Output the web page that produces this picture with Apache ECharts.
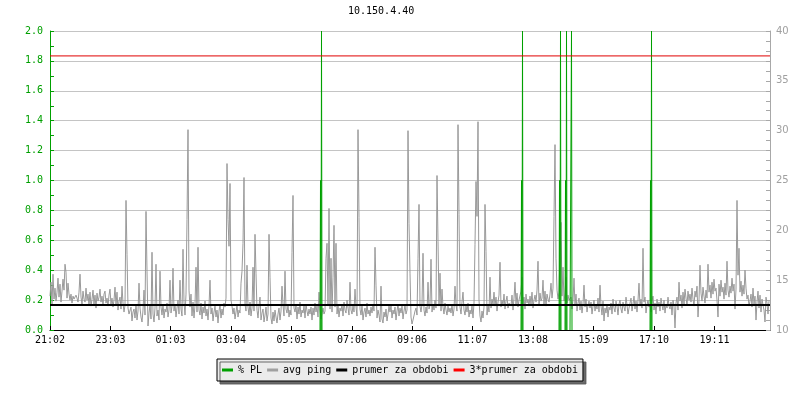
<!DOCTYPE html>
<html><head><meta charset="utf-8">
<script src="https://cdn.jsdelivr.net/npm/echarts@6/dist/echarts.min.js"></script>
<style>html,body{margin:0;padding:0;background:#fff}#c{width:800px;height:400px}</style>
</head><body><div id="c"></div>
<script>
// time axis: minutes after 21:02
const tickMinutes = [0,121,241,362,483,604,724,845,966,1087,1208,1329];
const tickLabels = ['21:02','23:03','01:03','03:04','05:05','07:06','09:06','11:07','13:08','15:09','17:10','19:11'];
// avg ping (ms), one value every 2 minutes
const pingMs = [
13.4,14.8,12.6,15.6,13.1,14.2,12.9,13.8,15.2,13.3,14.6,12.8,13.9,15.1,14.0,16.6,15.8,13.2,14.7,13.6,
13.0,13.6,12.7,13.4,13.1,12.9,13.5,13.2,12.8,13.8,15.6,13.3,12.6,13.9,13.1,12.8,14.2,13.0,13.6,12.5,
13.8,12.4,13.1,14.0,12.6,13.5,12.2,13.7,12.9,13.3,14.1,12.8,13.4,12.5,13.6,13.9,12.7,13.2,12.4,13.5,
14.1,12.6,13.2,12.3,13.0,14.3,12.5,13.8,12.0,12.9,13.3,12.1,14.4,12.7,11.8,12.5,23.0,17.6,12.2,11.6,
11.4,12.3,10.9,11.8,12.1,11.2,12.6,11.0,11.9,14.7,12.2,11.3,10.8,12.0,14.0,11.5,21.9,15.9,10.4,11.7,
12.5,11.1,17.8,11.6,10.8,12.2,16.6,11.4,12.0,11.0,15.9,12.3,11.5,12.6,11.2,12.1,11.8,12.7,11.3,12.0,
15.0,11.7,12.4,16.2,11.9,12.6,11.3,12.2,13.0,11.6,15.0,12.1,11.4,18.1,12.8,11.5,13.6,21.1,30.1,14.0,
12.3,13.6,11.4,12.8,11.2,12.5,16.3,11.8,18.3,12.0,11.5,12.7,11.1,12.3,11.7,12.9,11.4,12.1,11.0,12.4,
15.0,11.6,12.2,10.9,11.8,12.4,11.3,12.0,10.7,11.9,12.5,11.2,12.1,11.5,12.7,12.3,13.2,26.7,21.1,18.4,
24.7,13.0,12.4,11.6,12.2,11.1,11.8,12.5,11.3,12.0,11.7,14.7,15.9,18.7,25.3,12.6,11.9,16.5,12.3,11.5,
12.8,11.4,12.2,16.3,11.9,19.6,15.7,12.0,11.2,12.4,13.3,11.0,11.7,12.1,10.8,11.5,12.3,10.9,11.6,19.6,
15.3,11.2,10.6,11.8,10.9,12.0,11.3,10.7,11.6,12.2,11.0,11.9,14.4,12.5,11.4,15.9,12.1,11.7,12.6,11.3,
12.0,11.5,17.8,23.5,12.2,11.8,12.5,11.1,12.3,11.6,12.8,11.3,12.0,11.7,12.4,11.2,12.6,11.9,11.4,12.1,
11.6,12.3,11.0,12.2,11.5,12.7,11.8,12.4,11.3,13.8,12.0,11.1,10.9,12.2,11.6,11.9,17.2,18.7,12.4,22.2,
12.1,17.2,11.8,15.3,20.5,12.3,18.7,11.6,12.5,11.3,12.2,11.9,12.6,11.4,12.8,12.0,11.7,13.0,12.2,11.5,
14.8,12.0,11.6,12.5,11.8,14.1,12.3,11.4,30.1,21.3,12.1,11.5,12.4,11.0,11.8,12.2,11.3,12.7,11.6,12.0,
11.4,12.3,11.7,12.6,11.9,18.3,14.5,11.2,12.0,11.5,10.8,14.4,11.1,10.7,11.8,11.3,12.1,10.9,11.6,12.4,
11.8,12.5,11.2,12.0,11.6,12.3,11.0,11.9,12.6,11.4,12.2,11.7,12.4,11.1,11.9,12.5,11.6,12.0,30.0,20.7,
15.7,11.3,10.6,11.0,10.8,11.9,12.2,11.5,17.2,22.6,12.4,11.8,12.6,17.7,12.0,11.4,12.3,11.7,14.8,12.1,
12.5,17.1,11.8,12.6,12.0,13.0,12.2,25.5,18.9,12.4,15.7,11.9,14.1,12.3,11.6,12.7,12.0,11.5,12.4,11.8,
12.2,11.7,12.6,11.4,12.1,14.4,12.5,11.9,30.6,21.6,12.3,11.6,12.8,13.8,12.0,11.5,12.4,11.8,12.7,11.3,
12.0,11.6,12.4,11.2,12.7,18.6,24.9,21.4,30.9,13.0,11.4,10.8,11.9,11.2,12.3,22.6,17.9,11.5,12.6,11.8,
15.3,12.2,13.1,12.6,13.8,12.4,13.3,11.9,12.8,13.5,16.8,12.3,13.0,12.5,13.6,12.1,12.9,13.4,12.2,12.7,
12.9,12.4,13.5,12.0,13.2,14.8,12.6,13.7,12.3,13.0,12.8,13.9,15.3,12.5,13.3,12.1,13.6,12.7,13.1,12.4,
13.4,12.6,13.8,12.2,13.0,13.5,12.8,14.0,16.9,12.5,13.7,12.9,13.2,15.0,12.6,13.9,12.4,13.6,13.1,12.8,
13.6,14.7,13.2,14.2,21.4,28.6,17.2,14.0,13.1,13.8,17.8,20.8,13.4,16.3,12.9,13.6,15.3,12.7,13.5,13.0,
12.8,13.3,12.1,13.0,15.2,12.5,13.6,11.9,12.7,13.2,12.0,12.9,11.7,12.6,14.5,12.3,13.1,11.8,12.5,12.9,
12.2,12.8,11.6,12.4,13.0,11.9,12.6,12.1,13.2,11.8,14.5,12.4,11.5,12.9,10.9,12.2,11.7,12.6,11.3,12.3,
12.0,12.7,11.6,13.1,12.2,11.8,12.9,12.4,11.5,12.6,13.0,12.1,11.7,12.8,12.3,11.9,13.3,12.5,11.6,12.2,
12.7,13.2,11.9,12.6,13.4,12.1,12.9,11.8,13.0,14.7,12.4,13.1,12.2,18.2,12.8,13.3,11.7,12.5,13.0,12.3,
12.6,11.8,12.9,13.4,12.0,12.7,11.6,13.1,12.3,12.8,11.9,13.2,12.5,12.0,13.0,11.7,12.6,12.2,13.3,12.4,
12.1,12.8,11.5,13.0,12.4,10.2,12.7,13.3,12.0,14.8,12.9,13.5,12.2,13.8,12.6,14.1,13.2,12.5,13.9,13.0,
13.6,12.8,14.2,13.1,12.4,13.9,13.3,14.4,11.3,13.0,16.5,13.7,12.9,14.3,13.4,12.7,14.0,13.2,16.6,13.8,
14.5,13.2,14.8,13.6,15.1,13.9,14.2,13.0,11.3,14.6,13.4,15.0,13.8,14.3,13.1,14.7,13.5,16.9,14.0,13.3,
14.4,13.7,15.2,13.9,14.6,12.1,14.1,23.0,15.5,18.2,13.8,14.9,13.4,14.5,13.6,16.0,14.2,13.1,13.5,12.4,
12.9,13.6,12.3,14.2,12.6,13.4,11.0,12.8,13.9,12.2,13.5,11.8,13.1,12.5,12.0,10.8,13.3,12.7,11.6,12.9
];
// packet loss events (minute), peak % and neighbouring value
const plTimes = [540, 942, 1018, 1030, 1040, 1200];
const plPeak = [2, 2, 2, 2, 2, 2];
const plShoulder = [1, 1, 1, 1, 0, 1];
const meanPing = [12.5, 12.5];
const threeMeanPing = [37.5, 37.5];
const spanMinutes = [0, 1440];

const pingData = pingMs.map((v, i) => [i * 2, v]);
const plData = [];
plTimes.forEach((t, k) => {
  plData.push([t, 0], [t + 1, plShoulder[k]], [t + 2, 0], [t + 3, plPeak[k]], [t + 4, 0], [t + 5, null]);
});
const meanData = spanMinutes.map((m, i) => [m, meanPing[i]]);
const threeData = spanMinutes.map((m, i) => [m, threeMeanPing[i]]);

const mono = 'DejaVu Sans Mono';
const chart = echarts.init(document.getElementById('c'), null, {renderer: 'canvas'});
chart.setOption({
  animation: false,
  backgroundColor: '#ffffff',
  title: {text: '10.150.4.40', left: 348, top: 6, padding: 0, textStyle: {fontFamily: mono, fontSize: 10, fontWeight: 'normal', color: '#000'}},
  grid: {left: 50, right: 30, top: 31, bottom: 70},
  legend: {
    left: 217, top: 359, orient: 'horizontal',
    backgroundColor: '#ebebeb', borderColor: '#000', borderWidth: 1,
    shadowColor: 'rgba(90,90,90,0.9)', shadowOffsetX: 3, shadowOffsetY: 3, shadowBlur: 0.01,
    padding: [6, 5, 6, 5], itemGap: 5, itemWidth: 11, itemHeight: 3,
    textStyle: {fontFamily: mono, fontSize: 10, color: '#000'},
    data: [
      {name: '% PL', icon: 'rect'},
      {name: 'avg ping', icon: 'rect'},
      {name: 'prumer za obdobi', icon: 'rect'},
      {name: '3*prumer za obdobi', icon: 'rect'}
    ]
  },
  xAxis: {
    type: 'value', min: 0, max: 1440,
    axisLine: {lineStyle: {color: '#000', width: 1}},
    axisTick: {inside: true, length: 4, lineStyle: {color: '#000'}, customValues: tickMinutes},
    axisLabel: {customValues: tickMinutes, margin: 5, fontFamily: mono, fontSize: 10, color: '#000',
      formatter: v => { const k = tickMinutes.indexOf(v); return k >= 0 ? tickLabels[k] : ''; }},
    splitLine: {show: false}
  },
  yAxis: [
    {
      type: 'value', min: 0, max: 2, interval: 0.2, position: 'left',
      axisLine: {show: true, lineStyle: {color: '#00a000'}},
      axisTick: {show: true, inside: true, length: 4, lineStyle: {color: '#00a000'}},
      minorTick: {show: true, splitNumber: 2, length: 4, lineStyle: {color: '#00a000'}},
      axisLabel: {margin: 7, fontFamily: mono, fontSize: 10, color: '#00a000', formatter: v => v.toFixed(1)},
      splitLine: {show: true, lineStyle: {color: '#c4c4c4', width: 1}}
    },
    {
      type: 'value', min: 10, max: 40, interval: 5, position: 'right',
      axisLine: {show: true, lineStyle: {color: '#a8a8a8'}},
      axisTick: {show: true, inside: true, length: 4, lineStyle: {color: '#a8a8a8'}},
      minorTick: {show: true, splitNumber: 5, length: 4, lineStyle: {color: '#a8a8a8'}},
      axisLabel: {margin: 6, fontFamily: 'DejaVu Sans', fontSize: 10, color: '#a0a0a0'},
      splitLine: {show: false}
    }
  ],
  series: [
    {name: 'avg ping', type: 'line', yAxisIndex: 1, data: pingData, symbol: 'none', z: 2,
      lineStyle: {color: '#999999', width: 1}, itemStyle: {color: '#a0a0a0'}},
    {name: '% PL', type: 'line', yAxisIndex: 0, data: plData, symbol: 'none', z: 3, connectNulls: false,
      lineStyle: {color: '#00a000', width: 1}, itemStyle: {color: '#00a000'}},
    {name: 'prumer za obdobi', type: 'line', yAxisIndex: 1, data: meanData, symbol: 'none', z: 4,
      lineStyle: {color: '#000', width: 2}, itemStyle: {color: '#000'}},
    {name: '3*prumer za obdobi', type: 'line', yAxisIndex: 1, data: threeData, symbol: 'none', z: 4,
      lineStyle: {color: '#e00000', width: 1}, itemStyle: {color: '#ff0000'}}
  ]
});
</script></body></html>
